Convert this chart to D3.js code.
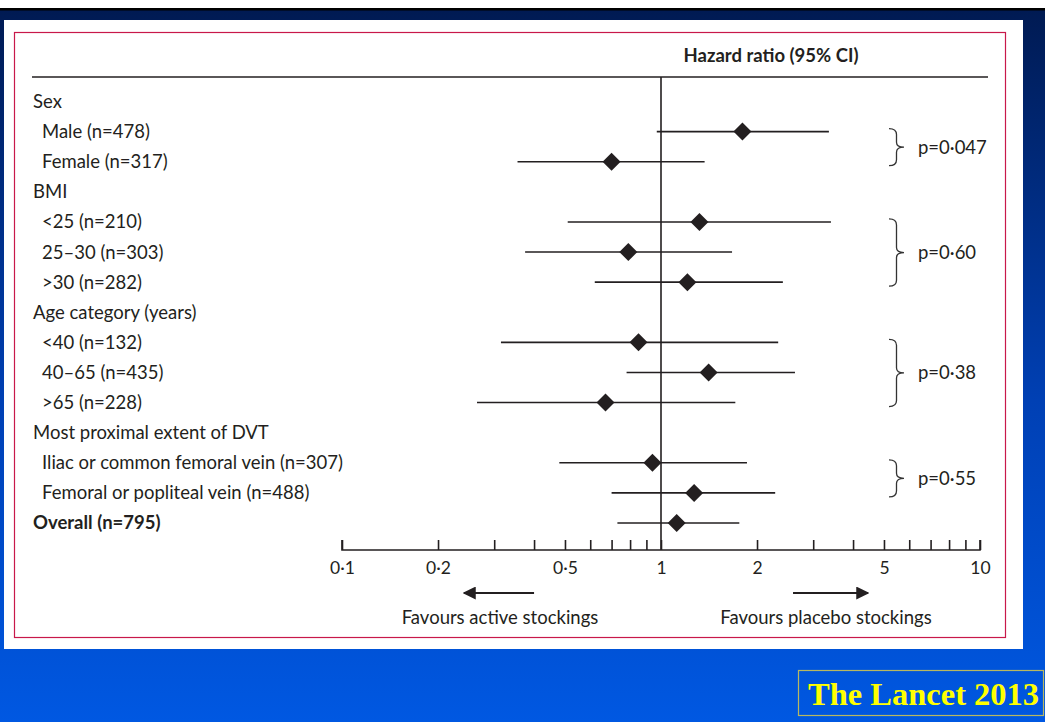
<!DOCTYPE html>
<html><head><meta charset="utf-8">
<script src="https://cdn.jsdelivr.net/npm/d3@7"></script>
<style>html,body{margin:0;padding:0;background:#fff;}svg{display:block;}</style>
</head><body>
<script>
const labels = ["Sex","Male (n=478)","Female (n=317)","BMI","<25 (n=210)","25–30 (n=303)",">30 (n=282)","Age category (years)","<40 (n=132)","40–65 (n=435)",">65 (n=228)","Most proximal extent of DVT","Iliac or common femoral vein (n=307)","Femoral or popliteal vein (n=488)","Overall (n=795)"];
const levels = [0,1,1,0,1,1,1,0,1,1,1,0,1,1,2];
const hr = [null,1.80,0.70,null,1.32,0.79,1.21,null,0.85,1.41,0.67,null,0.94,1.27,1.12];
const lower = [null,0.97,0.355,null,0.51,0.375,0.62,null,0.315,0.78,0.265,null,0.48,0.70,0.73];
const upper = [null,3.36,1.37,null,3.41,1.67,2.41,null,2.33,2.63,1.71,null,1.86,2.28,1.76];
const groupStart = [1,4,8,12];
const groupEnd = [2,6,10,13];
const pLabels = ["p=0·047","p=0·60","p=0·38","p=0·55"];
const tickValues = [0.1,0.2,0.3,0.4,0.5,0.6,0.7,0.8,0.9,1,2,3,4,5,6,7,8,9,10];
const tickLabels = {0.1:"0·1",0.2:"0·2",0.5:"0·5",1:"1",2:"2",5:"5",10:"10"};

const W=1045,H=722;
const svg=d3.select("body").append("svg").attr("width",W).attr("height",H);
const defs=svg.append("defs");
const g=defs.append("linearGradient").attr("id","bg").attr("x1",0).attr("y1",0).attr("x2",0).attr("y2",1);
g.append("stop").attr("offset","0%").attr("stop-color","#001a52");
g.append("stop").attr("offset","55%").attr("stop-color","#0040b4");
g.append("stop").attr("offset","100%").attr("stop-color","#0058e2");
svg.append("rect").attr("x",0).attr("y",0).attr("width",W).attr("height",H).attr("fill","#fff");
svg.append("rect").attr("x",0).attr("y",8).attr("width",W).attr("height",H-8).attr("fill","url(#bg)");
svg.append("rect").attr("x",0).attr("y",8).attr("width",W).attr("height",2.5).attr("fill","#000");
// white panel
svg.append("rect").attr("x",4).attr("y",20).attr("width",1019).attr("height",629).attr("fill","#fff");
svg.append("rect").attr("x",14.5).attr("y",32.5).attr("width",991).attr("height",605).attr("fill","none").attr("stroke","#c8184a").attr("stroke-width",1.2);

const font="Lato, 'Open Sans', sans-serif";
const fs=18.5;
const tc="#231f20";
const x=d3.scaleLog().domain([0.1,10]).range([342,980]);
const y=d3.scalePoint().domain(d3.range(labels.length)).range([101.5,523]);
const axisY=550;

// header
svg.append("text").attr("x",771).attr("y",56).attr("dy","0.35em").attr("text-anchor","middle")
  .attr("font-family",font).attr("font-size",fs).attr("font-weight",700).attr("fill",tc).text("Hazard ratio (95% CI)");
svg.append("line").attr("x1",32).attr("x2",988).attr("y1",77).attr("y2",77).attr("stroke",tc).attr("stroke-width",1.6);
// reference line
svg.append("line").attr("x1",x(1)).attr("x2",x(1)).attr("y1",77).attr("y2",axisY).attr("stroke",tc).attr("stroke-width",1.6);

// labels
svg.selectAll("text.lab").data(labels).join("text").attr("class","lab")
  .attr("x",(d,i)=>levels[i]===1?42:33).attr("y",(d,i)=>y(i)).attr("dy","0.35em")
  .attr("font-family",font).attr("font-size",fs).attr("font-weight",(d,i)=>levels[i]===2?700:400)
  .attr("fill",tc).text(d=>d);

const idx=d3.range(labels.length).filter(i=>hr[i]!==null);
svg.selectAll("line.ci").data(idx).join("line").attr("class","ci")
  .attr("x1",i=>x(lower[i])).attr("x2",i=>x(upper[i])).attr("y1",i=>y(i)).attr("y2",i=>y(i))
  .attr("stroke",tc).attr("stroke-width",1.6);
const s=9;
svg.selectAll("path.dm").data(idx).join("path").attr("class","dm")
  .attr("d",i=>{const cx=x(hr[i]),cy=y(i);return `M${cx},${cy-s}L${cx+s},${cy}L${cx},${cy+s}L${cx-s},${cy}Z`;})
  .attr("fill",tc);

// braces
function brace(x0,y0,y1,w){
  const m=(y0+y1)/2, r=w*0.5;
  return `M${x0},${y0} Q${x0+r},${y0} ${x0+r},${y0+6} L${x0+r},${m-5} Q${x0+r},${m} ${x0+w},${m} Q${x0+r},${m} ${x0+r},${m+5} L${x0+r},${y1-6} Q${x0+r},${y1} ${x0},${y1}`;
}
groupStart.forEach((st,k)=>{
  const y0=y(st)-3, y1=y(groupEnd[k])+4;
  svg.append("path").attr("d",brace(889,y0,y1,15)).attr("fill","none").attr("stroke","#333").attr("stroke-width",1.3);
  svg.append("text").attr("x",918).attr("y",(y0+y1)/2).attr("dy","0.35em")
    .attr("font-family",font).attr("font-size",fs).attr("fill",tc).text(pLabels[k]);
});

// axis
const ax=svg.append("g").attr("transform",`translate(0,${axisY})`)
  .call(d3.axisBottom(x).tickValues(tickValues).tickSize(-10).tickPadding(12).tickSizeOuter(0)
  .tickFormat(d=>tickLabels[d]||""));
ax.select(".domain").attr("stroke",tc).attr("stroke-width",1.6).attr("d",`M${x(0.1)},-10V0H${x(10)}V-10`);
ax.selectAll(".tick line").attr("stroke",tc).attr("stroke-width",1.6);
ax.selectAll(".tick text").attr("font-family",font).attr("font-size",17.5).attr("fill",tc);

// arrows
defs.append("marker").attr("id","ah").attr("viewBox","0 0 10 10").attr("refX",9).attr("refY",5)
  .attr("markerWidth",13).attr("markerHeight",13).attr("markerUnits","userSpaceOnUse").attr("orient","auto")
  .append("path").attr("d","M0,0L10,5L0,10Z").attr("fill",tc);
svg.append("line").attr("x1",x(0.4)).attr("x2",x(0.2)+26).attr("y1",593).attr("y2",593)
  .attr("stroke",tc).attr("stroke-width",2).attr("marker-end","url(#ah)");
svg.append("line").attr("x1",x(2)+36).attr("x2",x(5)-16).attr("y1",593).attr("y2",593)
  .attr("stroke",tc).attr("stroke-width",2).attr("marker-end","url(#ah)");
svg.append("text").attr("x",500).attr("y",617.5).attr("dy","0.35em").attr("text-anchor","middle")
  .attr("font-family",font).attr("font-size",fs).attr("fill",tc).text("Favours active stockings");
svg.append("text").attr("x",826).attr("y",617.5).attr("dy","0.35em").attr("text-anchor","middle")
  .attr("font-family",font).attr("font-size",fs).attr("fill",tc).text("Favours placebo stockings");

// citation
svg.append("rect").attr("x",798.5).attr("y",670.5).attr("width",245).attr("height",45)
  .attr("fill","none").attr("stroke","#b8b860").attr("stroke-width",1.2);
svg.append("text").attr("x",808).attr("y",705).attr("font-family","'Liberation Serif','DejaVu Serif',serif")
  .attr("font-size",32.5).attr("font-weight",700).attr("fill","#ffff00").text("The Lancet 2013");
</script>
</body></html>
